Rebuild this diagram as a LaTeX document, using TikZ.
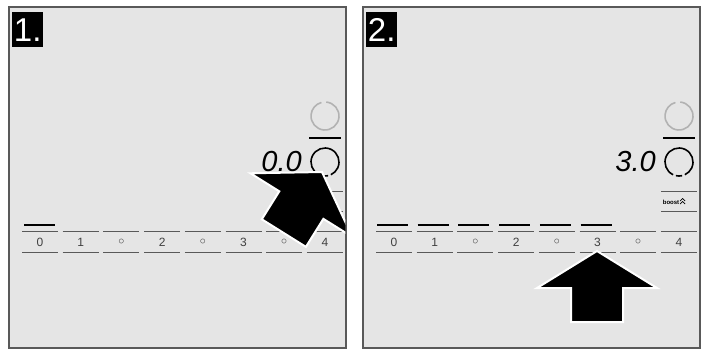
\documentclass[tikz,border=0pt]{standalone}
\usepackage{fontspec}
\setmainfont{Liberation Sans}
\usetikzlibrary{positioning,calc}

\begin{document}
\begin{tikzpicture}[
    x=1pt, y=-1pt,
    panel/.style={draw=black!65, line width=1.3pt, fill=black!10},
    tag/.style={fill=black, text=white, anchor=north west, minimum width=31pt, minimum height=35pt, inner sep=0pt, font=\fontsize{33}{33}\selectfont},
    ring/.style={line width=1.6pt},
    seg/.style={draw=black!65, line width=0.9pt},
    lvl/.style={text=black!75, inner sep=0pt, font=\fontsize{12}{12}\selectfont},
    bar/.style={line width=2pt},
    disp/.style={inner sep=0pt, anchor=east, font=\fontsize{29}{29}\selectfont\itshape},
    pointer/.style={fill=black, draw=white, line width=2pt, line join=miter},
  ]
  \useasboundingbox (0,0) rectangle (708,349);

  \foreach \dx/\n in {0/1, 354/2} {
    \begin{scope}[xshift=\dx]
      \draw[panel] (9,7) rectangle (346,348);
      \node[tag] (tag\n) at (12,12) {\n.};
      % zone rings
      \draw[ring, black!30] (325,116) ++(275:14) arc[start angle=275, end angle=615, radius=14];
      \draw[bar] (309,138) -- (341,138);
      \draw[ring] (325,162) ++(115:14) arc[start angle=115, end angle=425, radius=14];
      \draw[ring] (325,162) ++(77:14) arc[start angle=77, end angle=103, radius=14];
      % boost key
      \draw[seg] (307,191) -- (343,191);
      \draw[seg] (307,211) -- (343,211);
      \node[inner sep=0pt, font=\fontsize{6}{6}\selectfont\bfseries] (boost\n) at (317,202) {boost};
      \draw[line width=0.7pt] (326,201) -- (328.5,198.5) -- (331,201);
      \draw[line width=0.7pt] (326,204) -- (328.5,201.5) -- (331,204);
      % slider
      \foreach \i/\t in {0/0, 1/1, 2/$\circ$, 3/2, 4/$\circ$, 5/3, 6/$\circ$, 7/4} {
        \draw[seg] (22+40.7*\i,231) -- (58+40.7*\i,231);
        \draw[seg] (22+40.7*\i,252) -- (58+40.7*\i,252);
        \node[lvl] (lv\n-\i) at (40+40.7*\i,242) {\t};
      }
    \end{scope}
  }

  % step 1
  \node[disp] (val1) at (302,162) {0.0};
  \draw[bar] (24,225) -- (55,225);
  \begin{scope}
    \clip (9.6,7.6) rectangle (345.4,347.4);
    \draw[pointer, shift={(322,172)}, rotate=-32]
      (0,0) -- (60,39) -- (26,39) -- (26,72) -- (-26,72) -- (-26,39) -- (-60,39) -- cycle;
  \end{scope}

  % step 2
  \node[disp] (val2) at (656,162) {3.0};
  \foreach \i in {0,...,5}
    \draw[bar] (377+40.7*\i,225) -- (408+40.7*\i,225);
  \draw[pointer, shift={(597,251)}]
    (0,0) -- (60,37) -- (26,37) -- (26,71) -- (-26,71) -- (-26,37) -- (-60,37) -- cycle;
\end{tikzpicture}
\end{document}
